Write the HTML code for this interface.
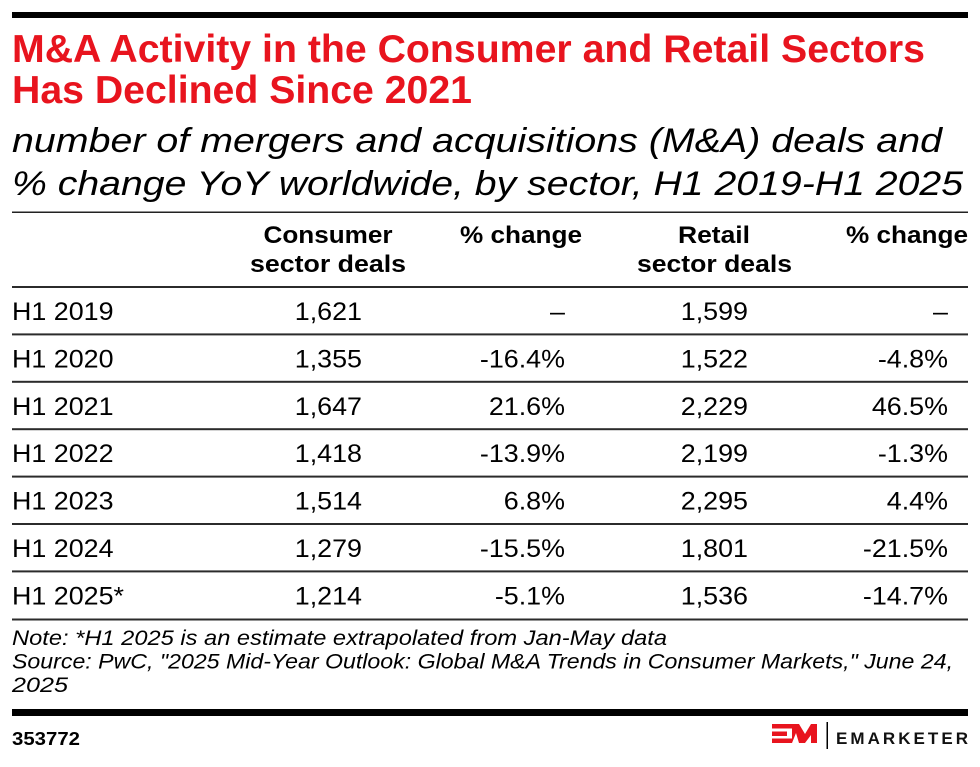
<!DOCTYPE html>
<html>
<head>
<meta charset="utf-8">
<style>
  html, body { margin: 0; padding: 0; background: #fff; }
  svg { display: block; }
  .t { font-family: "Liberation Sans", Arial, sans-serif; }
</style>
</head>
<body>
<svg width="980" height="767" viewBox="0 0 980 767" xmlns="http://www.w3.org/2000/svg">
  <rect x="0" y="0" width="980" height="767" fill="#fff"/>
  <!-- top bar -->
  <rect x="12" y="12" width="956" height="6" fill="#000"/>

  <!-- title -->
  <g class="t" font-weight="bold" font-size="39" fill="#e8141e">
    <text x="12" y="62" textLength="913" lengthAdjust="spacingAndGlyphs">M&amp;A Activity in the Consumer and Retail Sectors</text>
    <text x="12" y="103" textLength="460" lengthAdjust="spacingAndGlyphs">Has Declined Since 2021</text>
  </g>

  <!-- subtitle -->
  <g class="t" font-style="italic" font-size="34" fill="#000">
    <text x="12" y="152" textLength="930" lengthAdjust="spacingAndGlyphs">number of mergers and acquisitions (M&amp;A) deals and</text>
    <text x="12" y="195" textLength="951" lengthAdjust="spacingAndGlyphs">% change YoY worldwide, by sector, H1 2019-H1 2025</text>
  </g>

  <rect x="12" y="211.5" width="956" height="1.5" fill="#222"/>

  <!-- header -->
  <g class="t" font-weight="bold" font-size="24" fill="#000">
    <text x="328" y="243" text-anchor="middle" textLength="129" lengthAdjust="spacingAndGlyphs">Consumer</text>
    <text x="328" y="272" text-anchor="middle" textLength="156" lengthAdjust="spacingAndGlyphs">sector deals</text>
    <text x="460" y="243" textLength="122" lengthAdjust="spacingAndGlyphs">% change</text>
    <text x="714" y="243" text-anchor="middle" textLength="72" lengthAdjust="spacingAndGlyphs">Retail</text>
    <text x="714.5" y="272" text-anchor="middle" textLength="155" lengthAdjust="spacingAndGlyphs">sector deals</text>
    <text x="846" y="243" textLength="122" lengthAdjust="spacingAndGlyphs">% change</text>
  </g>

  <!-- table lines -->
  <g fill="#2b2b2b">
    <rect x="12" y="286" width="956" height="2"/>
    <rect x="12" y="333.4" width="956" height="2"/>
    <rect x="12" y="380.8" width="956" height="2"/>
    <rect x="12" y="428.2" width="956" height="2"/>
    <rect x="12" y="475.6" width="956" height="2"/>
    <rect x="12" y="523" width="956" height="2"/>
    <rect x="12" y="570.4" width="956" height="2"/>
    <rect x="12" y="618.5" width="956" height="2"/>
  </g>

  <!-- table body (scaled horizontally by 1.075) -->
  <g class="t" font-size="25" fill="#000" transform="scale(1.075,1)">
    <!-- row labels: x = 12/1.075 -->
    <text x="11.16" y="320">H1 2019</text>
    <text x="11.16" y="367.4">H1 2020</text>
    <text x="11.16" y="414.8">H1 2021</text>
    <text x="11.16" y="462.2">H1 2022</text>
    <text x="11.16" y="509.6">H1 2023</text>
    <text x="11.16" y="557">H1 2024</text>
    <text x="11.16" y="604.4">H1 2025*</text>

    <!-- consumer deals: end 362/1.075 = 336.74 -->
    <g text-anchor="end">
      <text x="336.74" y="320">1,621</text>
      <text x="336.74" y="367.4">1,355</text>
      <text x="336.74" y="414.8">1,647</text>
      <text x="336.74" y="462.2">1,418</text>
      <text x="336.74" y="509.6">1,514</text>
      <text x="336.74" y="557">1,279</text>
      <text x="336.74" y="604.4">1,214</text>

      <!-- pct 1: end 565/1.075 = 525.58 -->
      <text x="525.58" y="320">–</text>
      <text x="525.58" y="367.4">-16.4%</text>
      <text x="525.58" y="414.8">21.6%</text>
      <text x="525.58" y="462.2">-13.9%</text>
      <text x="525.58" y="509.6">6.8%</text>
      <text x="525.58" y="557">-15.5%</text>
      <text x="525.58" y="604.4">-5.1%</text>

      <!-- retail: end 748/1.075 = 695.81 -->
      <text x="695.81" y="320">1,599</text>
      <text x="695.81" y="367.4">1,522</text>
      <text x="695.81" y="414.8">2,229</text>
      <text x="695.81" y="462.2">2,199</text>
      <text x="695.81" y="509.6">2,295</text>
      <text x="695.81" y="557">1,801</text>
      <text x="695.81" y="604.4">1,536</text>

      <!-- pct 2: end 948/1.075 = 881.86 -->
      <text x="881.86" y="320">–</text>
      <text x="881.86" y="367.4">-4.8%</text>
      <text x="881.86" y="414.8">46.5%</text>
      <text x="881.86" y="462.2">-1.3%</text>
      <text x="881.86" y="509.6">4.4%</text>
      <text x="881.86" y="557">-21.5%</text>
      <text x="881.86" y="604.4">-14.7%</text>
    </g>
  </g>

  <!-- notes -->
  <g class="t" font-style="italic" font-size="21" fill="#000">
    <text x="12" y="645" textLength="655" lengthAdjust="spacingAndGlyphs">Note: *H1 2025 is an estimate extrapolated from Jan-May data</text>
    <text x="12" y="668.5" textLength="941" lengthAdjust="spacingAndGlyphs">Source: PwC, "2025 Mid-Year Outlook: Global M&amp;A Trends in Consumer Markets," June 24,</text>
    <text x="12" y="692" textLength="56" lengthAdjust="spacingAndGlyphs">2025</text>
  </g>

  <!-- bottom bar -->
  <rect x="12" y="709" width="956" height="7" fill="#000"/>

  <!-- footer id -->
  <text class="t" x="12" y="745" font-weight="bold" font-size="18" fill="#000" textLength="68" lengthAdjust="spacingAndGlyphs">353772</text>

  <!-- logo -->
  <g fill="#e8141e">
    <rect x="772" y="724" width="20" height="4.5"/>
    <rect x="772" y="731.5" width="15" height="4.5"/>
    <rect x="772" y="738.5" width="20" height="4.5"/>
    <polygon points="792,724 799,724 805,734 811,724 817,724 817,743 811,743 811,735 805,743 799,743 796,733 792,743"/>
  </g>
  <rect x="826.5" y="722" width="1.5" height="27" fill="#000"/>
  <text class="t" x="836" y="744" font-weight="bold" font-size="17" fill="#111" textLength="132" lengthAdjust="spacing">EMARKETER</text>
</svg>
</body>
</html>
